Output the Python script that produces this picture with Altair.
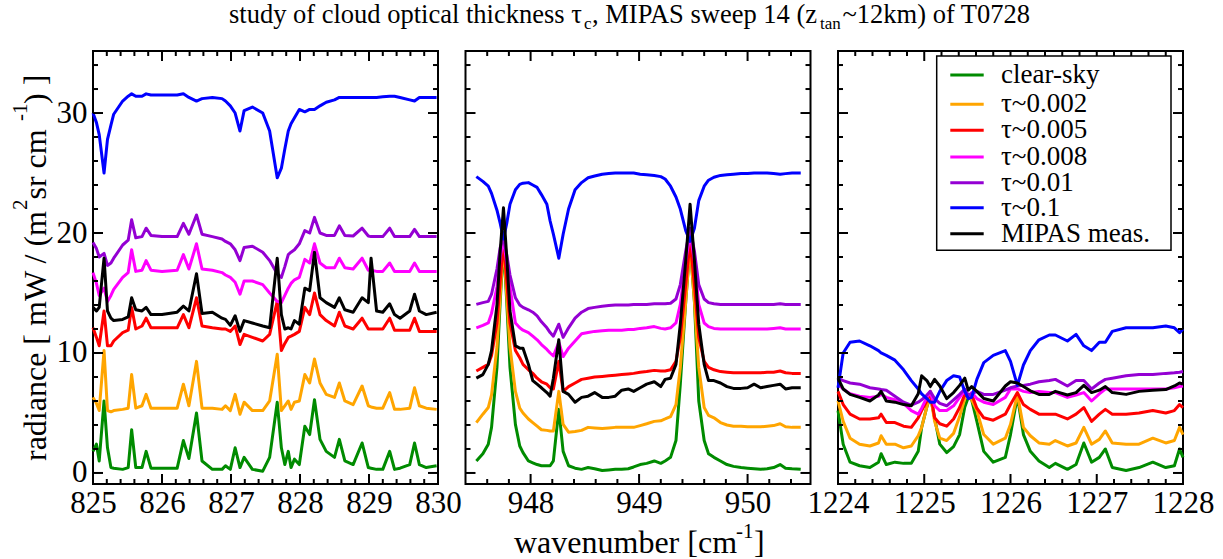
import altair as alt
import pandas as pd

FONT = "Liberation Serif"
names = ["clear-sky", "τ~0.002", "τ~0.005", "τ~0.008", "τ~0.01", "τ~0.1", "MIPAS meas."]
colors = ["#008b00", "#ffa500", "#ff0000", "#ff00ff", "#9400d3", "#0000ff", "#000000"]

# ---------------- panel 1 : 825-830 cm-1 ----------------
p1_x = [825.00, 825.05, 825.09, 825.16, 825.21, 825.26, 825.30, 825.43, 825.51, 825.56,
        825.62, 825.71, 825.77, 825.84, 826.00, 826.22, 826.31, 826.39, 826.50, 826.58,
        826.73, 826.87, 826.92, 826.99, 827.06, 827.13, 827.19, 827.31, 827.46, 827.56,
        827.67, 827.73, 827.78, 827.83, 827.87, 827.92, 827.99, 828.07, 828.14, 828.21,
        828.29, 828.38, 828.50, 828.57, 828.65, 828.77, 828.90, 828.99, 829.03, 829.11,
        829.20, 829.30, 829.37, 829.45, 829.59, 829.66, 829.73, 829.83, 829.98]
p1_clear = [1.8, 2.4, 1.0, 6.0, 2.1, 0.45, 0.4, 0.3, 0.45, 3.6, 0.45, 0.45, 1.8, 0.4, 0.4,
            0.4, 2.7, 1.2, 5.0, 1.0, 0.3, 0.3, 0.6, 0.3, 2.1, 0.45, 1.3, 0.3, 0.15, 1.3,
            5.9, 2.1, 0.7, 1.8, 0.45, 1.15, 0.7, 3.9, 3.2, 6.1, 2.8, 1.8, 1.3, 2.8, 1.0,
            0.7, 2.5, 0.45, 0.4, 0.3, 0.3, 1.8, 0.3, 0.4, 0.7, 2.5, 0.7, 0.45, 0.6]
p1_t002 = [6.3, 5.8, 5.2, 10.2, 5.2, 5.1, 5.2, 5.3, 5.4, 8.2, 5.4, 5.6, 6.55, 5.4, 5.4,
           5.4, 7.4, 5.6, 9.3, 5.4, 5.4, 5.3, 5.6, 5.2, 6.55, 4.9, 5.9, 5.2, 5.2, 6.0,
           9.9, 5.2, 5.6, 6.0, 5.3, 5.9, 6.0, 8.2, 7.5, 9.5, 7.5, 6.55, 6.3, 7.5, 6.0,
           5.7, 7.25, 5.6, 5.5, 5.4, 5.4, 6.7, 5.3, 5.3, 5.4, 7.1, 5.6, 5.4, 5.3]
p1_t005 = [12.1, 11.3, 10.6, 13.5, 10.6, 10.6, 11.0, 11.7, 11.9, 13.8, 12.0, 12.25, 12.9, 12.1, 12.1,
           12.1, 13.2, 12.1, 14.6, 12.25, 12.1, 12.0, 12.0, 11.8, 12.25, 10.7, 11.55, 11.3, 11.0, 11.55,
           14.3, 10.2, 10.8, 11.3, 11.4, 11.55, 11.8, 13.8, 13.2, 15.0, 13.2, 12.7, 12.25, 13.4, 12.25,
           12.0, 12.9, 12.0, 12.0, 12.0, 12.0, 12.9, 11.9, 11.9, 11.9, 12.9, 11.8, 11.8, 11.8]
p1_t008 = [16.7, 15.8, 14.8, 15.4, 14.3, 14.8, 15.3, 16.3, 16.7, 18.6, 16.8, 16.9, 17.7, 16.9, 16.8,
           16.9, 18.2, 17.0, 19.1, 17.0, 16.9, 16.7, 16.5, 16.3, 15.9, 14.9, 16.0, 16.0, 15.7, 15.0,
           14.3, 14.2, 14.8, 15.4, 15.8, 16.1, 16.3, 17.8, 17.5, 19.1, 17.5, 17.1, 17.1, 17.9, 17.1,
           17.0, 17.9, 16.9, 16.9, 16.8, 16.8, 17.5, 16.8, 16.8, 16.8, 17.5, 16.8, 16.8, 16.8]
p1_t01 = [19.2, 18.7, 18.0, 18.3, 17.3, 17.5, 17.9, 19.0, 19.4, 21.1, 19.6, 19.7, 20.4, 19.8, 19.7,
          19.7, 20.8, 19.9, 21.5, 19.9, 19.7, 19.5, 19.3, 19.1, 18.6, 17.7, 18.8, 18.9, 18.4, 17.7,
          16.6, 16.3, 17.2, 18.2, 18.4, 18.6, 19.1, 20.2, 20.0, 21.3, 20.0, 19.8, 19.8, 20.6, 19.8,
          19.75, 20.4, 19.75, 19.7, 19.7, 19.7, 20.4, 19.7, 19.7, 19.7, 20.3, 19.7, 19.7, 19.7]
p1_t1 = [30.0, 29.2, 28.2, 25.0, 27.8, 29.0, 29.9, 31.0, 31.4, 31.6, 31.4, 31.4, 31.6, 31.5, 31.5,
         31.5, 31.6, 31.3, 31.0, 31.2, 31.3, 31.2, 31.0, 30.6, 30.0, 28.5, 30.2, 30.5, 30.0, 28.5,
         24.6, 25.4, 27.0, 28.5, 29.1, 29.6, 30.3, 30.1, 30.3, 30.3, 30.6, 30.9, 31.1, 31.3, 31.3,
         31.3, 31.3, 31.3, 31.3, 31.3, 31.35, 31.4, 31.4, 31.3, 31.1, 31.0, 31.3, 31.3, 31.3]
p1_meas = [13.8, 13.5, 13.8, 17.9, 13.5, 12.9, 12.7, 12.8, 13.0, 14.6, 13.6, 13.5, 13.8, 13.2, 13.2,
           13.4, 13.9, 13.5, 16.6, 13.3, 13.4, 12.9, 12.8, 12.3, 13.1, 11.8, 12.7, 12.5, 12.25, 12.1,
           17.9, 13.2, 12.0, 12.1, 12.0, 12.7, 12.4, 15.4, 15.2, 18.4, 14.6, 14.2, 13.8, 14.6, 13.6,
           13.4, 14.6, 14.2, 17.9, 13.5, 13.4, 14.1, 13.2, 12.9, 13.5, 14.9, 13.5, 13.2, 13.4]

# ---------------- panel 2 : 947.4-950.6 cm-1 ----------------
p2_x = [947.50, 947.56, 947.61, 947.64, 947.69, 947.72, 947.75, 947.78, 947.81, 947.86,
        947.90, 947.93, 947.98, 948.02, 948.06, 948.10, 948.15, 948.18, 948.21, 948.26,
        948.30, 948.35, 948.41, 948.47, 948.53, 948.59, 948.66, 948.72, 948.78, 948.84,
        948.90, 948.95, 949.01, 949.07, 949.14, 949.20, 949.24, 949.29, 949.34, 949.38,
        949.43, 949.47, 949.51, 949.55, 949.60, 949.64, 949.69, 949.75, 949.81, 949.87,
        949.94, 950.00, 950.06, 950.12, 950.18, 950.24, 950.30, 950.35, 950.41, 950.49]
p2_clear = [1.0, 1.6, 2.4, 3.8, 8.8, 14.3, 19.05, 14.3, 8.8, 4.05,
            2.25, 1.7, 1.0, 0.85, 0.7, 0.6, 0.6, 0.6, 1.0, 5.3,
            1.8, 0.6, 0.4, 0.3, 0.45, 0.35, 0.2, 0.25, 0.3, 0.3,
            0.35, 0.5, 0.7, 0.8, 1.0, 0.8, 1.0, 1.3, 2.7, 7.4,
            14.3, 19.05, 14.3, 6.0, 2.7, 1.6, 1.3, 1.0, 0.7, 0.55,
            0.45, 0.4, 0.35, 0.3, 0.35, 0.45, 0.7, 0.4, 0.35, 0.3]
p2_t002 = [4.2, 4.9, 5.45, 6.5, 10.5, 14.8, 19.3, 14.8, 10.5, 6.8,
           5.4, 5.0, 4.5, 4.2, 3.9, 3.6, 3.55, 3.5, 3.5, 6.8,
           4.05, 3.4, 3.45, 3.55, 3.8, 3.75, 3.7, 3.75, 3.8, 3.8,
           3.8, 3.8, 3.95, 4.1, 4.3, 4.35, 4.5, 4.7, 5.7, 8.8,
           14.3, 19.05, 14.3, 8.8, 5.45, 4.8, 4.6, 4.2, 4.0, 3.9,
           3.9, 3.85, 3.85, 3.85, 3.9, 3.95, 4.1, 3.85, 3.8, 3.8]
p2_t005 = [8.5, 8.8, 9.05, 9.8, 12.5, 16.0, 19.3, 16.0, 12.5, 10.2,
           9.6, 9.05, 8.6, 8.3, 7.9, 7.6, 7.4, 7.1, 7.0, 9.3,
           6.8, 7.2, 7.5, 7.8, 7.9, 8.0, 8.05, 8.1, 8.15, 8.2,
           8.25, 8.3, 8.4, 8.45, 8.55, 8.5, 8.5, 8.6, 9.3, 11.3,
           15.7, 19.3, 15.7, 11.3, 9.3, 8.8, 8.6, 8.45, 8.4, 8.35,
           8.35, 8.35, 8.35, 8.35, 8.4, 8.4, 8.5, 8.35, 8.3, 8.3]
p2_t008 = [12.1, 12.3, 12.5, 13.3, 15.5, 18.0, 19.5, 17.5, 15.5, 12.5,
           12.1, 11.9, 11.7, 11.4, 11.1, 10.7, 10.3, 10.0, 9.75, 10.9,
           9.7, 10.4, 11.0, 11.6, 11.7, 11.8, 11.85, 11.9, 11.9, 11.9,
           11.95, 11.95, 12.05, 12.1, 12.2, 12.05, 12.0, 12.1, 12.5, 14.05,
           17.7, 19.9, 17.7, 14.05, 12.5, 12.2, 12.05, 12.0, 12.0, 12.0,
           12.0, 12.0, 12.0, 12.0, 12.0, 12.05, 12.1, 12.0, 12.0, 12.0]
p2_t01 = [14.05, 14.2, 14.3, 14.9, 17.0, 18.8, 19.6, 18.2, 16.5, 14.6,
          14.0, 13.8, 13.6, 13.4, 13.1, 12.6, 12.1, 11.7, 11.4, 12.4,
          11.3, 12.1, 12.9, 13.4, 13.7, 13.8, 13.9, 13.95, 14.0, 14.0,
          14.0, 14.05, 14.05, 14.05, 14.1, 14.1, 14.1, 14.15, 14.5, 15.7,
          18.5, 20.4, 18.5, 15.7, 14.5, 14.2, 14.1, 14.05, 14.05, 14.05,
          14.05, 14.05, 14.05, 14.05, 14.05, 14.05, 14.1, 14.05, 14.05, 14.05]
p2_t1 = [24.7, 24.3, 23.9, 23.3, 21.9, 20.8, 19.5, 20.8, 22.4, 23.6,
         24.05, 24.15, 24.2, 24.0, 23.8, 23.2, 22.4, 21.0, 19.9, 17.9,
         19.9, 22.0, 23.6, 24.2, 24.6, 24.75, 24.9, 24.95, 25.0, 25.0,
         25.0, 25.0, 24.9, 24.85, 24.8, 24.7, 24.5, 23.9, 23.0, 22.0,
         20.2, 19.3, 20.4, 22.7, 23.9, 24.4, 24.65, 24.8, 24.85, 24.9,
         24.95, 24.95, 25.0, 25.0, 25.0, 24.95, 24.9, 24.95, 25.0, 25.0]
p2_meas = [7.9, 8.2, 9.05, 10.2, 14.0, 18.5, 22.1, 18.0, 13.5, 10.6,
           10.4, 10.4, 9.05, 7.7, 7.4, 7.1, 6.7, 6.4, 7.9, 11.1,
           6.8, 6.55, 5.9, 6.3, 6.4, 6.7, 6.3, 6.3, 6.4, 6.9,
           7.0, 6.8, 7.1, 7.4, 7.6, 7.2, 7.8, 7.9, 9.05, 12.4,
           17.7, 22.4, 17.7, 12.4, 9.05, 7.7, 7.7, 7.5, 7.2, 7.05,
           7.05, 7.1, 7.4, 7.1, 7.2, 7.3, 7.4, 7.0, 7.1, 7.1]

# ---------------- panel 3 : 1224-1228 cm-1 ----------------
p3_x = [1224.00, 1224.06, 1224.14, 1224.25, 1224.37, 1224.47, 1224.50, 1224.56, 1224.66, 1224.76,
        1224.85, 1224.93, 1224.97, 1225.03, 1225.07, 1225.12, 1225.18, 1225.26, 1225.34, 1225.41,
        1225.47, 1225.51, 1225.55, 1225.61, 1225.69, 1225.80, 1225.94, 1226.00, 1226.08, 1226.15,
        1226.23, 1226.33, 1226.45, 1226.52, 1226.66, 1226.76, 1226.85, 1226.94, 1227.03, 1227.10,
        1227.18, 1227.34, 1227.49, 1227.65, 1227.80, 1227.90, 1227.96, 1228.00]
p3_clear = [5.2, 2.4, 0.9, 0.6, 0.45, 0.9, 1.6, 0.7, 0.9, 0.8,
            0.8, 1.8, 3.8, 5.5, 6.4, 4.6, 2.4, 1.7, 2.2, 3.2,
            5.5, 6.3, 6.1, 4.3, 1.8, 0.9, 1.3, 3.2, 6.4, 3.2,
            1.8, 1.0, 0.45, 0.8, 0.3, 0.7, 2.5, 0.9, 1.3, 2.0,
            0.45, 0.2, 0.45, 0.9, 0.45, 0.6, 2.0, 1.3]
p3_t002 = [6.0, 4.3, 2.9, 2.4, 2.25, 2.5, 3.1, 2.4, 2.4, 2.1,
           2.25, 3.1, 3.8, 5.5, 6.55, 4.3, 2.9, 2.7, 3.3, 4.7,
           6.2, 6.4, 6.1, 5.2, 3.2, 2.4, 2.9, 4.05, 6.55, 3.8,
           3.1, 2.5, 2.4, 2.7, 2.25, 2.5, 3.8, 2.4, 2.8, 3.5,
           2.5, 2.4, 2.4, 2.9, 2.5, 2.7, 3.8, 3.2]
p3_t005 = [6.8, 5.7, 4.9, 4.5, 4.5, 4.6, 4.9, 4.2, 4.2, 3.9,
           3.8, 4.6, 5.2, 6.0, 6.8, 4.6, 4.1, 3.9, 4.5, 5.45,
           6.55, 6.4, 6.55, 5.4, 4.6, 4.4, 4.9, 5.7, 6.7, 5.7,
           5.3, 4.9, 4.9, 4.9, 4.5, 4.9, 5.45, 4.3, 4.9, 5.3,
           4.9, 4.9, 5.0, 5.2, 5.0, 5.2, 5.7, 5.45]
p3_t008 = [7.4, 7.0, 6.6, 6.4, 6.3, 6.4, 6.55, 6.3, 6.1, 5.8,
           5.2, 4.9, 5.4, 6.3, 6.7, 5.6, 5.2, 5.2, 5.6, 6.3,
           6.8, 6.3, 6.7, 6.2, 5.9, 5.7, 6.3, 7.0, 7.0, 6.8,
           6.7, 6.8, 6.7, 6.7, 6.3, 6.5, 6.7, 6.0, 6.6, 7.0,
           7.0, 7.0, 7.0, 7.0, 7.0, 7.1, 7.2, 7.25]
p3_t01 = [7.9, 7.7, 7.5, 7.4, 7.1, 7.0, 6.95, 6.9, 6.4, 5.9,
          5.65, 5.9, 6.1, 6.5, 6.8, 6.2, 5.8, 5.6, 6.1, 6.55,
          7.0, 6.5, 6.6, 6.8, 6.55, 6.55, 6.9, 7.1, 7.25, 7.3,
          7.4, 7.6, 7.7, 7.8, 7.25, 7.7, 7.7, 7.0, 7.5, 7.8,
          7.9, 8.1, 8.2, 8.2, 8.3, 8.35, 8.4, 8.45]
p3_t1 = [7.1, 10.0, 10.9, 11.0, 10.6, 10.2, 10.0, 9.8, 9.4, 8.6,
         7.7, 7.0, 6.6, 6.2, 5.9, 5.9, 6.8, 7.7, 8.1, 8.0,
         6.8, 6.2, 6.3, 7.8, 9.2, 9.8, 10.2, 9.3, 7.3, 9.0,
         10.2, 11.1, 11.5, 11.5, 11.0, 11.55, 10.6, 10.2, 10.9, 10.9,
         11.8, 12.1, 12.1, 12.1, 12.25, 12.1, 11.7, 12.0]
p3_meas = [7.9, 7.0, 6.55, 6.3, 6.0, 6.5, 6.8, 6.0, 5.9, 5.7,
           5.6, 6.6, 8.1, 7.7, 7.2, 7.8, 7.25, 6.2, 6.7, 7.3,
           7.9, 6.9, 7.2, 6.8, 6.2, 6.0, 7.25, 7.6, 7.5, 7.2,
           6.85, 6.55, 6.55, 6.8, 6.5, 6.7, 7.3, 6.7, 6.9, 7.2,
           6.7, 6.55, 6.8, 6.9, 6.95, 7.25, 7.5, 7.4]

# axis tick values
y_major = [0, 10, 20, 30]
y_minor = [2, 4, 6, 8, 12, 14, 16, 18, 22, 24, 26, 28, 32, 34]
p1_major = [825, 826, 827, 828, 829, 830]
p1_minor = [825.2, 825.4, 825.6, 825.8, 826.2, 826.4, 826.6, 826.8, 827.2, 827.4, 827.6, 827.8,
            828.2, 828.4, 828.6, 828.8, 829.2, 829.4, 829.6, 829.8]
p2_major = [948, 949, 950]
p2_minor = [947.6, 947.8, 948.2, 948.4, 948.6, 948.8, 949.2, 949.4, 949.6, 949.8, 950.2, 950.4]
p3_major = [1224, 1225, 1226, 1227, 1228]
p3_minor = [1224.2, 1224.4, 1224.6, 1224.8, 1225.2, 1225.4, 1225.6, 1225.8, 1226.2, 1226.4,
            1226.6, 1226.8, 1227.2, 1227.4, 1227.6, 1227.8]

W, H = 345, 433
YDOM = [-0.92, 35.17]
ONE = pd.DataFrame({"a": [0]})


def long_df(x, series):
    rows = []
    for name, vals in zip(names, series):
        for xv, yv in zip(x, vals):
            rows.append({"x": xv, "y": yv, "series": name})
    return pd.DataFrame(rows)


def txt(s, x, y, size, angle=0, align="left", baseline="alphabetic"):
    kw = dict(text=s, font=FONT, fontSize=size, align=align, baseline=baseline, color="black")
    if angle:
        kw["angle"] = angle
    return alt.Chart(ONE).mark_text(**kw).encode(x=alt.value(x), y=alt.value(y))


def panel(df, xdom, xmaj, xmin, show_y, extra):
    X = alt.X("x:Q", title=None,
              scale=alt.Scale(domain=xdom, nice=False, zero=False),
              axis=alt.Axis(values=xmaj, format="d", ticks=False, tickSize=0, domain=False,
                            grid=False, labelFont=FONT, labelFontSize=31, labelColor="black",
                            labelPadding=4, labelFlush=False, labelOverlap=False))
    if show_y:
        yax = alt.Axis(values=y_major, format="d", ticks=False, tickSize=0, domain=False,
                       grid=False, labelFont=FONT, labelFontSize=31, labelColor="black",
                       labelPadding=6, labelFlush=False, labelOverlap=False)
        Y = alt.Y("y:Q", title=None, scale=alt.Scale(domain=YDOM, nice=False, zero=False), axis=yax)
    else:
        Y = alt.Y("y:Q", title=None, scale=alt.Scale(domain=YDOM, nice=False, zero=False), axis=None)

    layers = []
    for name, col in zip(names, colors):
        layers.append(alt.Chart(df[df.series == name]).mark_line(
            color=col, strokeWidth=3, strokeJoin="round").encode(x=X, y=Y))

    ymaj = pd.DataFrame({"y": y_major})
    ymin = pd.DataFrame({"y": y_minor})
    xmajd = pd.DataFrame({"x": xmaj})
    xmind = pd.DataFrame({"x": xmin})
    for d, L in ((ymaj, 10), (ymin, 5)):
        layers.append(alt.Chart(d).mark_rule(color="black", strokeWidth=2).encode(
            y=Y, x=alt.value(0), x2=alt.value(L)))
        layers.append(alt.Chart(d).mark_rule(color="black", strokeWidth=2).encode(
            y=Y, x=alt.value(W - L), x2=alt.value(W)))
    for d, L in ((xmajd, 10), (xmind, 5)):
        layers.append(alt.Chart(d).mark_rule(color="black", strokeWidth=2).encode(
            x=X, y=alt.value(H - L), y2=alt.value(H)))
        layers.append(alt.Chart(d).mark_rule(color="black", strokeWidth=2).encode(
            x=X, y=alt.value(0), y2=alt.value(L)))
    layers.extend(extra)
    return alt.layer(*layers).properties(width=W, height=H)


# decorations (pixel positions relative to panel 1 origin)
deco1 = [
    alt.Chart(ONE).mark_rule(color="white", strokeWidth=1).encode(
        x=alt.value(-91.5), y=alt.value(-49.5), y2=alt.value(-48.5)),
    # title
    txt("study of cloud optical thickness τ", 136, -28, 26.5),
    txt("c", 491, -22, 17),
    txt(", MIPAS sweep 14 (z", 499, -28, 26.5),
    txt("tan", 727, -22, 17),
    txt("~12km) of T0728", 749.5, -28, 26.5),
    # x title
    txt("wavenumber [cm", 421, 502, 32),
    txt("-1", 643, 487, 21),
    txt("]", 661, 502, 32),
    # y title
    txt("radiance [ mW / (m", -47, 410, 32, angle=270),
    txt("2", -66, 159, 21, angle=270),
    txt(" sr cm", -47, 148.5, 32, angle=270),
    txt("-1", -66, 70, 21, angle=270),
    txt(") ]", -47, 53, 32, angle=270),
]

# legend inside panel 3 (pixel positions relative to panel 3 origin)
leg_rows = [24, 53.3, 79.3, 106, 131.7, 156.7, 182.7]
deco3 = [alt.Chart(ONE).mark_rect(fill="white", stroke="black", strokeWidth=1.5).encode(
    x=alt.value(98.7), x2=alt.value(333), y=alt.value(5), y2=alt.value(199.3))]
for name, col, ry in zip(names, colors, leg_rows):
    deco3.append(alt.Chart(ONE).mark_rule(color=col, strokeWidth=3).encode(
        x=alt.value(112.3), x2=alt.value(145.7), y=alt.value(ry)))
    deco3.append(txt(name, 163, ry, 27, baseline="middle"))

p1 = panel(long_df(p1_x, [p1_clear, p1_t002, p1_t005, p1_t008, p1_t01, p1_t1, p1_meas]),
           [825, 830], p1_major, p1_minor, True, deco1)
p2 = panel(long_df(p2_x, [p2_clear, p2_t002, p2_t005, p2_t008, p2_t01, p2_t1, p2_meas]),
           [947.4, 950.58], p2_major, p2_minor, False, [])
p3 = panel(long_df(p3_x, [p3_clear, p3_t002, p3_t005, p3_t008, p3_t01, p3_t1, p3_meas]),
           [1224, 1228], p3_major, p3_minor, False, deco3)

chart = alt.hconcat(p1, p2, p3, spacing=27.5, bounds="flush").properties(
    padding=0, autosize="pad", background="white"
).configure_view(stroke="black", strokeWidth=2)

chart.save("out.html", embed_options={"renderer": "svg", "actions": False})
